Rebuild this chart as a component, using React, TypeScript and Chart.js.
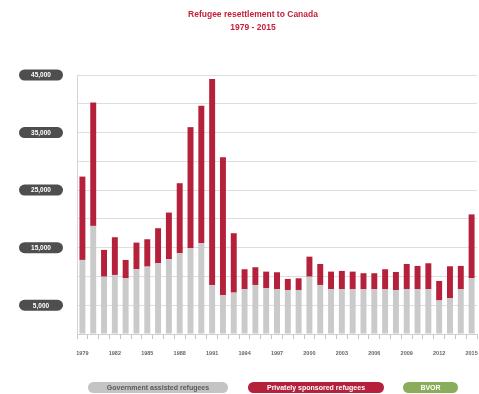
import React, { useEffect, useRef } from "react";
import { Chart, registerables } from "chart.js";

Chart.register(...registerables);

const titleLines = ["Refugee resettlement to Canada", "1979 - 2015"];

const years = [
  "1979", "1980", "1981", "1982", "1983", "1984", "1985", "1986", "1987", "1988",
  "1989", "1990", "1991", "1992", "1993", "1994", "1995", "1996", "1997", "1998",
  "1999", "2000", "2001", "2002", "2003", "2004", "2005", "2006", "2007", "2008",
  "2009", "2010", "2011", "2012", "2013", "2014", "2015",
];

const governmentAssisted = [
  12870, 18780, 9960, 10260, 9680, 11250, 11710, 12290, 12990, 14030,
  14900, 15770, 8520, 6780, 7190, 7770, 8520, 7950, 7770, 7650,
  7650, 9960, 8520, 7770, 7770, 7770, 7770, 7770, 7770, 7650,
  7770, 7770, 7770, 5830, 6210, 7770, 9690,
];

const privatelySponsored = [
  14480, 21440, 4650, 6550, 3190, 4630, 4750, 6090, 8110, 12170,
  21040, 23880, 35770, 23950, 10320, 3480, 3080, 2890, 2960, 1920,
  2030, 3480, 3650, 3070, 3190, 3070, 2790, 2790, 3480, 3130,
  4400, 4060, 4520, 3390, 5560, 4060, 11090,
];

const bvor = [
  0, 0, 0, 0, 0, 0, 0, 0, 0, 0,
  0, 0, 0, 0, 0, 0, 0, 0, 0, 0,
  0, 0, 0, 0, 0, 0, 0, 0, 0, 0,
  0, 0, 0, 0, 0, 0, 0,
];

const labeledYears = [
  "1979", "1982", "1985", "1988", "1991", "1994", "1997",
  "2000", "2003", "2006", "2009", "2012", "2015",
];

const yLabelValues = [5000, 15000, 25000, 35000, 45000];

const seriesNames = ["Government assisted refugees", "Privately sponsored refugees", "BVOR"];

function pill(ctx: CanvasRenderingContext2D, x: number, y: number, w: number, h: number) {
  const r = h / 2;
  ctx.beginPath();
  ctx.moveTo(x + r, y);
  ctx.lineTo(x + w - r, y);
  ctx.arc(x + w - r, y + r, r, -Math.PI / 2, Math.PI / 2);
  ctx.lineTo(x + r, y + h);
  ctx.arc(x + r, y + r, r, Math.PI / 2, (3 * Math.PI) / 2);
  ctx.closePath();
  ctx.fill();
}

const decoPlugin = {
  id: "deco",
  afterDraw(chart: any) {
    const ctx: CanvasRenderingContext2D = chart.ctx;
    const yScale = chart.scales.y;
    ctx.save();
    ctx.fillStyle = "#c41e3a";
    ctx.font = 'bold 8.5px "Liberation Sans", Arial, sans-serif';
    ctx.textAlign = "center";
    ctx.textBaseline = "middle";
    ctx.fillText(titleLines[0], 253, 15);
    ctx.fillText(titleLines[1], 253, 28);

    yLabelValues.forEach((v) => {
      const py = yScale.getPixelForValue(v);
      ctx.fillStyle = "#4e4e4e";
      pill(ctx, 19, py - 5.5, 44, 11);
      ctx.fillStyle = "#ffffff";
      ctx.font = 'bold 6.5px "Liberation Sans", Arial, sans-serif';
      ctx.fillText(v.toLocaleString("en-US"), 41, py + 0.5);
    });

    const legendBoxes = [
      { x: 88, w: 140, fill: "#c4c4c4", text: "#5a5a5a" },
      { x: 248, w: 136, fill: "#b5213b", text: "#ffffff" },
      { x: 403, w: 55, fill: "#8aad5c", text: "#ffffff" },
    ];
    chart.data.datasets.forEach((ds: any, i: number) => {
      const b = legendBoxes[i];
      ctx.fillStyle = b.fill;
      pill(ctx, b.x, 382, b.w, 11);
      ctx.fillStyle = b.text;
      ctx.font = 'bold 7px "Liberation Sans", Arial, sans-serif';
      ctx.fillText(ds.label, b.x + b.w / 2, 388);
    });
    ctx.restore();
  },
};

export default function App() {
  const canvasRef = useRef<HTMLCanvasElement | null>(null);

  useEffect(() => {
    document.body.style.margin = "0";
    const canvas = canvasRef.current;
    if (!canvas) return;
    const chart = new Chart(canvas, {
      type: "bar",
      data: {
        labels: years,
        datasets: [
          {
            label: seriesNames[0],
            data: governmentAssisted,
            backgroundColor: "#cacaca",
            barPercentage: 0.55,
            categoryPercentage: 1,
          },
          {
            label: seriesNames[1],
            data: privatelySponsored,
            backgroundColor: "#b5213b",
            barPercentage: 0.55,
            categoryPercentage: 1,
          },
          {
            label: seriesNames[2],
            data: bvor,
            backgroundColor: "#8aad5c",
            barPercentage: 0.55,
            categoryPercentage: 1,
          },
        ],
      },
      options: {
        animation: false,
        responsive: false,
        maintainAspectRatio: false,
        layout: { padding: { top: 75, right: 2, bottom: 0, left: 0 } },
        plugins: {
          legend: { display: false },
          title: { display: false },
          tooltip: { enabled: false },
        },
        scales: {
          x: {
            stacked: true,
            afterFit: (s: any) => {
              s.height = 60;
              s.paddingLeft = 0;
              s.paddingRight = 0;
            },
            grid: {
              drawOnChartArea: false,
              drawTicks: true,
              tickLength: 5,
              color: "#c4c4c4",
            },
            border: { display: true, color: "#cfcfcf" },
            ticks: {
              autoSkip: false,
              maxRotation: 0,
              minRotation: 0,
              padding: 11,
              color: "#666666",
              font: { family: '"Liberation Sans", Arial, sans-serif', size: 5.5, weight: "bold" },
              callback: (_v: any, i: number) => (labeledYears.includes(years[i]) ? years[i] : ""),
            },
          },
          y: {
            stacked: true,
            min: 0,
            max: 45000,
            afterFit: (s: any) => {
              s.width = 77;
            },
            grid: { color: "#dedede", drawTicks: false, lineWidth: 1 },
            border: { display: true, color: "#d4d4d4" },
            ticks: { stepSize: 5000, display: false },
          },
        },
      },
      plugins: [decoPlugin],
    });
    return () => chart.destroy();
  }, []);

  return (
    <div style={{ width: 479, height: 394, background: "#ffffff" }}>
      <canvas ref={canvasRef} width={479} height={394} style={{ width: 479, height: 394, display: "block" }} />
    </div>
  );
}
